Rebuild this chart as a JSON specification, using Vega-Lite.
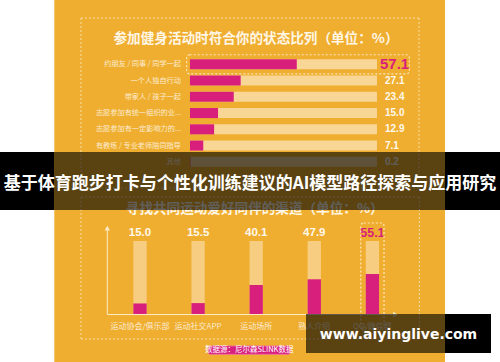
{
  "$schema": "https://vega.github.io/schema/vega-lite/v6.json",
  "width": 500,
  "height": 362,
  "autosize": {"type": "none"},
  "padding": 0,
  "background": "white",
  "config": {
    "view": {"stroke": null},
    "axis": {"disable": true},
    "legend": {"disable": true},
    "font": "Noto Sans CJK SC"
  },
  "datasets": {
    "status": [
      {"label": "约朋友 / 同事 / 同学一起", "v": 57.1},
      {"label": "一个人独自行动", "v": 27.1},
      {"label": "带家人 / 孩子一起", "v": 23.4},
      {"label": "志愿参加有统一组织的业...", "v": 15.0},
      {"label": "志愿参加有一定影响力的...", "v": 12.9},
      {"label": "有教练 / 专业老师陪同指导", "v": 7.1},
      {"label": "其他", "v": 0.2}
    ],
    "channels": [
      {"channel": "运动协会/俱乐部", "v": 15.0},
      {"channel": "运动社交APP", "v": 15.5},
      {"channel": "运动场所", "v": 40.1},
      {"channel": "熟人介绍", "v": 47.9},
      {"channel": "QQ/微信群", "v": 55.1}
    ],
    "frame": [{"part": "panel"}],
    "banner": [{"part": "band", "title": "基于体育跑步打卡与个性化训练建议的AI模型路径探索与应用研究"}],
    "mark": [{"part": "wm", "site": "www.aiyinglive.com"}]
  },
  "layer": [
    {
      "data": {"name": "banner"},
      "mark": {"type": "rect", "color": "#000000"},
      "encoding": {
        "y": {"field": "part", "type": "nominal", "axis": null, "scale": {"range": [152, 210], "paddingInner": 0, "paddingOuter": 0}}
      }
    },
    {
      "data": {"name": "mark"},
      "mark": {"type": "rect", "color": "#000000"},
      "encoding": {
        "x": {"field": "part", "type": "nominal", "axis": null, "scale": {"range": [306, 491], "paddingInner": 0, "paddingOuter": 0}},
        "y": {"field": "part", "type": "nominal", "axis": null, "scale": {"range": [314, 353], "paddingInner": 0, "paddingOuter": 0}}
      }
    },
    {
      "data": {"name": "frame"},
      "mark": {"type": "rect", "color": "#EFAE2F"},
      "encoding": {
        "x": {"field": "part", "type": "nominal", "axis": null, "scale": {"range": [54.3, 445], "paddingInner": 0, "paddingOuter": 0}}
      }
    },
    {
      "data": {"name": "status"},
      "encoding": {
        "y": {
          "field": "label",
          "type": "nominal",
          "sort": null,
          "axis": null,
          "scale": {"range": [56.2, 169.95], "paddingInner": 0, "paddingOuter": 0}
        }
      },
      "layer": [
        {
          "mark": {"type": "bar", "color": "#F8D696", "height": {"band": 0.62}},
          "encoding": {
            "x": {"datum": 100, "type": "quantitative", "axis": null, "scale": {"domain": [-101.6, 165.78], "nice": false, "zero": false}},
            "x2": {"datum": 0}
          }
        },
        {
          "mark": {"type": "bar", "color": "#D81F7B", "height": {"band": 0.62}},
          "encoding": {
            "x": {"field": "v", "type": "quantitative"},
            "x2": {"datum": 0}
          }
        },
        {
          "mark": {"type": "text", "align": "right", "baseline": "middle", "dx": -9, "fontSize": 7.2, "color": "#FCEBD2", "font": "Noto Sans CJK SC"},
          "encoding": {
            "x": {"datum": 0, "type": "quantitative"},
            "text": {"field": "label"}
          }
        },
        {
          "transform": [{"filter": "datum.v < 50"}],
          "mark": {"type": "text", "align": "left", "baseline": "middle", "dx": 8, "fontSize": 10, "fontWeight": "bold", "font": "Liberation Sans Narrow, Liberation Sans, sans-serif", "color": "#FFF8EC"},
          "encoding": {
            "x": {"datum": 100, "type": "quantitative"},
            "text": {"field": "v", "format": ".1f"}
          }
        },
        {
          "transform": [{"filter": "datum.v >= 50"}],
          "mark": {"type": "text", "align": "left", "baseline": "middle", "dx": 3, "fontSize": 15, "fontWeight": "bold", "font": "Liberation Sans Narrow, Liberation Sans, sans-serif", "color": "#D81F7B"},
          "encoding": {
            "x": {"datum": 100, "type": "quantitative"},
            "text": {"field": "v", "format": ".1f"}
          }
        },
        {
          "transform": [{"filter": "datum.v >= 50"}],
          "mark": {"type": "bar", "filled": false, "color": "#FCE6BD", "strokeWidth": 1.2, "strokeDash": [2, 2], "cornerRadius": 3, "height": {"band": 1.18}},
          "encoding": {
            "x": {"datum": -1.76, "type": "quantitative"},
            "x2": {"datum": 117.3}
          }
        },
        {
          "transform": [{"filter": "datum.v >= 50"}],
          "mark": {"type": "text", "baseline": "middle", "dy": -25.8, "fontSize": 13.6, "fontWeight": "bold", "color": "#FFF6E6", "font": "Noto Sans CJK SC"},
          "encoding": {
            "x": {"datum": 35.3, "type": "quantitative"},
            "text": {"value": "参加健身活动时符合你的状态比列（单位：%）"}
          }
        },
        {
          "data": {"values": [{"edge": "top"}]},
          "mark": {"type": "rule", "color": "#F8DDA8", "strokeWidth": 1, "strokeDash": [2, 2], "yOffset": -46.3},
          "encoding": {
            "x": {"datum": -58.29, "type": "quantitative"},
            "x2": {"datum": 122.46},
            "y": {"datum": "约朋友 / 同事 / 同学一起", "type": "nominal"}
          }
        },
        {
          "data": {"values": [{"edge": "bottom"}]},
          "mark": {"type": "rule", "color": "#F8DDA8", "strokeWidth": 1, "strokeDash": [2, 2], "yOffset": 26.2},
          "encoding": {
            "x": {"datum": -58.29, "type": "quantitative"},
            "x2": {"datum": 122.46},
            "y": {"datum": "其他", "type": "nominal"}
          }
        },
        {
          "data": {"values": [{"edge": "left"}]},
          "mark": {"type": "rule", "color": "#F8DDA8", "strokeWidth": 1, "strokeDash": [2, 2], "yOffset": -46.3, "y2Offset": 26.2},
          "encoding": {
            "x": {"datum": -58.29, "type": "quantitative"},
            "y": {"datum": "约朋友 / 同事 / 同学一起", "type": "nominal"},
            "y2": {"datum": "其他"}
          }
        },
        {
          "data": {"values": [{"edge": "right"}]},
          "mark": {"type": "rule", "color": "#F8DDA8", "strokeWidth": 1, "strokeDash": [2, 2], "yOffset": -46.3, "y2Offset": 26.2},
          "encoding": {
            "x": {"datum": 122.46, "type": "quantitative"},
            "y": {"datum": "约朋友 / 同事 / 同学一起", "type": "nominal"},
            "y2": {"datum": "其他"}
          }
        }
      ]
    },
    {
      "data": {"name": "channels"},
      "encoding": {
        "x": {
          "field": "channel",
          "type": "nominal",
          "sort": null,
          "axis": null,
          "scale": {"range": [133.35, 379.05], "paddingInner": 0.771, "paddingOuter": 0}
        }
      },
      "layer": [
        {
          "mark": {"type": "bar", "color": "#F6CD81"},
          "encoding": {
            "y": {"datum": 100, "type": "quantitative", "axis": null, "scale": {"domain": [-64.63, 427.9], "nice": false, "zero": false}},
            "y2": {"datum": 0}
          }
        },
        {
          "mark": {"type": "bar", "color": "#D81F7B"},
          "encoding": {
            "y": {"field": "v", "type": "quantitative"},
            "y2": {"datum": 0}
          }
        },
        {
          "transform": [{"filter": "datum.v < 55"}],
          "mark": {"type": "text", "baseline": "middle", "dy": -8, "fontSize": 11.5, "fontWeight": "bold", "font": "Liberation Sans Narrow, Liberation Sans, sans-serif", "color": "#FFF8EC"},
          "encoding": {
            "y": {"datum": 100, "type": "quantitative"},
            "text": {"field": "v", "format": ".1f"}
          }
        },
        {
          "transform": [{"filter": "datum.v >= 55"}],
          "mark": {"type": "text", "baseline": "middle", "dy": -8, "fontSize": 12.5, "fontWeight": "bold", "font": "Liberation Sans Narrow, Liberation Sans, sans-serif", "color": "#D81F7B"},
          "encoding": {
            "y": {"datum": 100, "type": "quantitative"},
            "text": {"field": "v", "format": ".1f"}
          }
        },
        {
          "mark": {"type": "text", "baseline": "middle", "dy": 12.5, "fontSize": 8, "color": "#FCEBD2", "font": "Noto Sans CJK SC"},
          "encoding": {
            "y": {"datum": 0, "type": "quantitative"},
            "text": {"field": "channel"}
          }
        },
        {
          "transform": [{"filter": "datum.v >= 55"}],
          "mark": {"type": "bar", "filled": false, "color": "#FCE6BD", "strokeWidth": 1.2, "strokeDash": [2, 2], "cornerRadius": 3, "width": {"band": 1.75}},
          "encoding": {
            "y": {"datum": 124.5, "type": "quantitative"},
            "y2": {"datum": -18.4}
          }
        },
        {
          "data": {"values": [{"title": "寻找共同运动爱好同伴的渠道（单位：%）"}]},
          "mark": {"type": "text", "baseline": "middle", "xOffset": -1.5, "fontSize": 13.6, "fontWeight": "bold", "color": "#FFF6E6", "font": "Noto Sans CJK SC"},
          "encoding": {
            "x": {"datum": "运动场所", "type": "nominal"},
            "y": {"datum": 143.5, "type": "quantitative"},
            "text": {"field": "title"}
          }
        },
        {
          "data": {"values": [{"axis": "y"}]},
          "mark": {"type": "rule", "color": "#FCEBC8", "strokeWidth": 1, "xOffset": -32.7},
          "encoding": {
            "x": {"datum": "运动协会/俱乐部", "type": "nominal"},
            "y": {"datum": 0, "type": "quantitative"},
            "y2": {"datum": 118}
          }
        },
        {
          "data": {"values": [{"axis": "x"}]},
          "mark": {"type": "rule", "color": "#FCEBC8", "strokeWidth": 1, "xOffset": -32.7, "x2Offset": 24},
          "encoding": {
            "x": {"datum": "运动协会/俱乐部", "type": "nominal"},
            "x2": {"datum": "QQ/微信群"},
            "y": {"datum": 0, "type": "quantitative"}
          }
        },
        {
          "data": {"values": [{"axis": "y"}]},
          "mark": {"type": "point", "shape": "triangle-up", "filled": true, "color": "#FCEBC8", "size": 28, "opacity": 1, "xOffset": -32.7},
          "encoding": {
            "x": {"datum": "运动协会/俱乐部", "type": "nominal"},
            "y": {"datum": 117.5, "type": "quantitative"}
          }
        },
        {
          "data": {"values": [{"axis": "x"}]},
          "mark": {"type": "point", "shape": "triangle-right", "filled": true, "color": "#FCEBC8", "size": 28, "opacity": 1, "xOffset": 23},
          "encoding": {
            "x": {"datum": "QQ/微信群", "type": "nominal"},
            "y": {"datum": 0, "type": "quantitative"}
          }
        },
        {
          "data": {"values": [{"edge": "top"}]},
          "mark": {"type": "rule", "color": "#F8DDA8", "strokeWidth": 1, "strokeDash": [2, 2], "xOffset": -59, "x2Offset": 47},
          "encoding": {
            "x": {"datum": "运动协会/俱乐部", "type": "nominal"},
            "x2": {"datum": "QQ/微信群"},
            "y": {"datum": 159.9, "type": "quantitative"}
          }
        },
        {
          "data": {"values": [{"edge": "bottom"}]},
          "mark": {"type": "rule", "color": "#F8DDA8", "strokeWidth": 1, "strokeDash": [2, 2], "xOffset": -59, "x2Offset": 47},
          "encoding": {
            "x": {"datum": "运动协会/俱乐部", "type": "nominal"},
            "x2": {"datum": "QQ/微信群"},
            "y": {"datum": -33.3, "type": "quantitative"}
          }
        },
        {
          "data": {"values": [{"edge": "left"}]},
          "mark": {"type": "rule", "color": "#F8DDA8", "strokeWidth": 1, "strokeDash": [2, 2], "xOffset": -59},
          "encoding": {
            "x": {"datum": "运动协会/俱乐部", "type": "nominal"},
            "y": {"datum": 159.9, "type": "quantitative"},
            "y2": {"datum": -33.3}
          }
        },
        {
          "data": {"values": [{"edge": "right"}]},
          "mark": {"type": "rule", "color": "#F8DDA8", "strokeWidth": 1, "strokeDash": [2, 2], "xOffset": 47},
          "encoding": {
            "x": {"datum": "QQ/微信群", "type": "nominal"},
            "y": {"datum": 159.9, "type": "quantitative"},
            "y2": {"datum": -33.3}
          }
        },
        {
          "data": {"values": [{"source": "数据源：尼尔森SLINK数据"}]},
          "mark": {"type": "bar", "color": "#D8207F", "stroke": "#F06AA8", "strokeWidth": 0.8, "cornerRadius": 2, "width": 82, "xOffset": -7},
          "encoding": {
            "x": {"datum": "运动场所", "type": "nominal"},
            "y": {"datum": -42.86, "type": "quantitative"},
            "y2": {"datum": -54.15}
          }
        },
        {
          "data": {"values": [{"source": "数据源：尼尔森SLINK数据"}]},
          "mark": {"type": "text", "baseline": "middle", "xOffset": -7, "fontSize": 7.5, "color": "#FFFFFF", "font": "Noto Sans CJK SC"},
          "encoding": {
            "x": {"datum": "运动场所", "type": "nominal"},
            "y": {"datum": -48.5, "type": "quantitative"},
            "text": {"field": "source"}
          }
        }
      ]
    },
    {
      "data": {"name": "frame"},
      "mark": {"type": "rect", "color": "#000000", "opacity": 0.62},
      "encoding": {
        "x": {"field": "part", "type": "nominal", "axis": null, "scale": {"range": [54.3, 445], "paddingInner": 0, "paddingOuter": 0}},
        "y": {"datum": "band", "type": "nominal", "axis": null, "scale": {"domain": ["band"], "range": [152, 210], "paddingInner": 0, "paddingOuter": 0}}
      }
    },
    {
      "data": {"name": "banner"},
      "mark": {"type": "text", "baseline": "middle", "fontSize": 17, "fontWeight": "bold", "color": "#FFFFFF", "dy": 2.5, "font": "Noto Sans CJK SC"},
      "encoding": {"text": {"field": "title"}}
    },
    {
      "data": {"name": "mark"},
      "mark": {"type": "rect", "color": "#000000", "opacity": 0.62},
      "encoding": {
        "x": {"field": "part", "type": "nominal", "axis": null, "scale": {"range": [306, 491], "paddingInner": 0, "paddingOuter": 0}},
        "y": {"field": "part", "type": "nominal", "axis": null, "scale": {"range": [314, 353], "paddingInner": 0, "paddingOuter": 0}}
      }
    },
    {
      "data": {"name": "mark"},
      "mark": {"type": "text", "baseline": "middle", "fontSize": 14, "fontWeight": "bold", "color": "#FFFFFF", "dy": 1, "font": "DejaVu Sans"},
      "encoding": {
        "x": {"field": "part", "type": "nominal", "axis": null, "scale": {"range": [306, 491], "paddingInner": 0, "paddingOuter": 0}},
        "y": {"field": "part", "type": "nominal", "axis": null, "scale": {"range": [314, 353], "paddingInner": 0, "paddingOuter": 0}},
        "text": {"field": "site"}
      }
    }
  ],
  "resolve": {"scale": {"x": "independent", "y": "independent"}}
}
